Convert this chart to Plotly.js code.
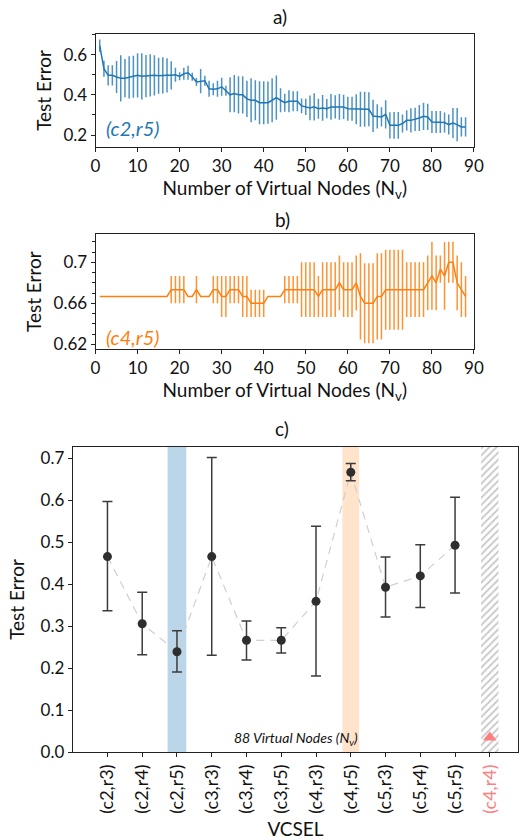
<!DOCTYPE html>
<html>
<head>
<meta charset="utf-8">
<script src="https://cdn.plot.ly/plotly-3.0.1.min.js"></script>
<style>html,body{margin:0;padding:0;background:#fff;}#chart{width:526px;height:840px;}</style>
</head>
<body>
<div id="chart"></div>
<script>
// ---------- Panel a: (c2,r5) test error vs number of virtual nodes ----------
const nodes = [1,2,3,4,5,6,7,8,9,10,11,12,13,14,15,16,17,18,19,20,21,22,23,24,25,26,27,28,29,30,
  31,32,33,34,35,36,37,38,39,40,41,42,43,44,45,46,47,48,49,50,51,52,53,54,55,56,57,58,59,60,
  61,62,63,64,65,66,67,68,69,70,71,72,73,74,75,76,77,78,79,80,81,82,83,84,85,86,87,88];

const errA = [0.645,0.53,0.497,0.497,0.489,0.482,0.483,0.487,0.49,0.497,0.492,0.493,0.497,0.497,0.495,
  0.497,0.497,0.497,0.50,0.492,0.505,0.51,0.49,0.464,0.468,0.47,0.43,0.428,0.43,0.44,
  0.42,0.40,0.406,0.40,0.40,0.38,0.373,0.373,0.361,0.361,0.361,0.373,0.386,0.373,0.361,
  0.368,0.368,0.368,0.345,0.34,0.335,0.34,0.331,0.335,0.331,0.34,0.34,0.34,0.34,0.331,
  0.331,0.328,0.328,0.328,0.328,0.295,0.293,0.29,0.303,0.248,0.248,0.248,0.257,0.273,0.273,
  0.278,0.285,0.293,0.29,0.265,0.265,0.265,0.262,0.252,0.26,0.252,0.24,0.24];
const stdA = [0.03,0.04,0.05,0.05,0.08,0.115,0.095,0.105,0.105,0.11,0.115,0.105,0.105,0.1,0.09,
  0.09,0.085,0.07,0.035,0.02,0.03,0.035,0.02,0.02,0.06,0.025,0.04,0.03,0.04,0.045,
  0.025,0.087,0.093,0.093,0.093,0.09,0.11,0.1,0.107,0.107,0.105,0.11,0.11,0.06,0.045,
  0.055,0.05,0.05,0.037,0.04,0.062,0.068,0.05,0.064,0.048,0.064,0.058,0.064,0.06,0.06,
  0.06,0.075,0.087,0.087,0.085,0.08,0.06,0.048,0.07,0.065,0.066,0.066,0.045,0.05,0.06,
  0.058,0.065,0.068,0.065,0.055,0.055,0.055,0.05,0.05,0.075,0.083,0.048,0.048];

// ---------- Panel b: (c4,r5) ----------
const errB = [0.6667,0.6667,0.6667,0.6667,0.6667,0.6667,0.6667,0.6667,0.6667,0.6667,0.6667,0.6667,0.6667,0.6667,0.6667,
  0.6667,0.6667,0.6733,0.6733,0.6733,0.6733,0.6667,0.6667,0.6733,0.6667,0.6667,0.6667,0.6733,0.6733,0.6667,
  0.6667,0.6733,0.6733,0.6733,0.6667,0.6667,0.66,0.66,0.66,0.66,0.6667,0.6667,0.6667,0.6667,0.6733,
  0.6733,0.6733,0.6733,0.6733,0.6733,0.6733,0.6733,0.6667,0.6733,0.6733,0.6733,0.6733,0.68,0.6733,0.6733,
  0.6733,0.68,0.6667,0.66,0.66,0.66,0.6667,0.6667,0.6733,0.6733,0.6733,0.6733,0.6733,0.6733,0.6733,
  0.6733,0.6733,0.6733,0.68,0.6867,0.68,0.6933,0.6867,0.70,0.70,0.68,0.6733,0.6667];
const stdB = [0,0,0,0,0,0,0,0,0,0,0,0,0,0,0,
  0,0,0.0133,0.0133,0.0133,0.0133,0,0,0.0133,0,0,0,0.0133,0.0133,0.02,
  0.02,0.0133,0.0133,0.0133,0.02,0.02,0.0133,0.0133,0.0133,0.0133,0,0,0,0,0.0133,
  0.0133,0.0133,0.0133,0.0267,0.0267,0.0267,0.0267,0.02,0.0267,0.0267,0.0267,0.0267,0.0267,0.0267,0.0267,
  0.0267,0.0267,0.042,0.039,0.039,0.039,0.042,0.042,0.039,0.039,0.039,0.039,0.039,0.0267,0.0267,
  0.0267,0.0267,0.0267,0.0267,0.033,0.0267,0.0133,0.033,0.02,0.02,0.0267,0.0267,0.02];

// ---------- Panel c: VCSELs at 88 virtual nodes ----------
const vcsels = ['(c2,r3)','(c2,r4)','(c2,r5)','(c3,r3)','(c3,r4)','(c3,r5)','(c4,r3)','(c4,r5)','(c5,r3)','(c5,r4)','(c5,r5)'];
const vcselErr = [0.466,0.306,0.2395,0.466,0.2667,0.2667,0.3595,0.6667,0.393,0.42,0.493];
const vcselUp  = [0.131,0.075,0.050,0.236,0.046,0.030,0.179,0.021,0.072,0.074,0.114];
const vcselDn  = [0.129,0.074,0.0485,0.235,0.047,0.030,0.178,0.020,0.071,0.075,0.114];
const excludedVcsel = '(c4,r4)';
const excludedErr = 0.035;
const highlighted = ['(c2,r5)','(c4,r5)'];

const allCats = vcsels.concat([excludedVcsel]);
const tickText = vcsels.concat(['<span style="color:#ff7f7f">' + excludedVcsel + '</span>']);

const yTickValsA = [0.2,0.4,0.6], yTickTextA = ['0.2','0.4','0.6'];
const yTickValsB = [0.62,0.66,0.7], yTickTextB = ['0.62','0.66','0.7'];

const BLUE = '#1f77b4', ORANGE = '#ff7f0e', RED = '#ff7f7f';
const FONT = 'Lato, "Open Sans", sans-serif';
const cTop = 0.7276;

const traces = [
  {x: nodes, y: errA, type: 'scatter', mode: 'lines', xaxis: 'x', yaxis: 'y',
   line: {color: BLUE, width: 1.5},
   error_y: {type: 'data', array: stdA, visible: true, color: 'rgba(31,119,180,0.8)', thickness: 1.5, width: 0}},
  {x: nodes, y: errB, type: 'scatter', mode: 'lines', xaxis: 'x2', yaxis: 'y2',
   line: {color: ORANGE, width: 1.5},
   error_y: {type: 'data', array: stdB, visible: true, color: 'rgba(255,127,14,0.85)', thickness: 1.5, width: 0}},
  {x: [excludedVcsel], y: [cTop], type: 'bar', xaxis: 'x3', yaxis: 'y3', width: 0.5,
   marker: {color: 'white', line: {width: 0},
            pattern: {shape: '/', fgcolor: '#c8c8c8', bgcolor: 'white', size: 5, solidity: 0.35}},
   hoverinfo: 'skip'},
  {x: vcsels, y: vcselErr, type: 'scatter', mode: 'lines', xaxis: 'x3', yaxis: 'y3',
   line: {color: '#cfcfcf', width: 1.2, dash: '8px,6px'}},
  {x: vcsels, y: vcselErr, type: 'scatter', mode: 'markers', xaxis: 'x3', yaxis: 'y3',
   marker: {color: '#2e2e2e', size: 9},
   error_y: {type: 'data', symmetric: false, array: vcselUp, arrayminus: vcselDn, visible: true,
             color: '#3c3c3c', thickness: 1.5, width: 5}},
  {x: [excludedVcsel], y: [excludedErr], type: 'scatter', mode: 'markers', xaxis: 'x3', yaxis: 'y3',
   marker: {color: RED, size: 12, symbol: 'triangle-up'}}
];

const shapes = [
  {type: 'rect', xref: 'x3', yref: 'y3 domain', x0: allCats.indexOf(highlighted[0]) - 0.27, x1: allCats.indexOf(highlighted[0]) + 0.27,
   y0: 0, y1: 1, fillcolor: 'rgba(31,119,180,0.3)', line: {width: 0}, layer: 'below'},
  {type: 'rect', xref: 'x3', yref: 'y3 domain', x0: allCats.indexOf(highlighted[1]) - 0.24, x1: allCats.indexOf(highlighted[1]) + 0.24,
   y0: 0, y1: 1, fillcolor: 'rgba(255,127,14,0.22)', line: {width: 0}, layer: 'below'}
];

const axBase = {showline: true, mirror: true, linecolor: '#222', linewidth: 1, ticks: 'outside', ticklen: 4,
  tickcolor: '#222', showgrid: false, zeroline: false, tickfont: {size: 17, color: '#111'}};

const layout = {
  width: 526, height: 840, margin: {l: 0, r: 0, t: 0, b: 0}, showlegend: false,
  paper_bgcolor: 'white', plot_bgcolor: 'white', font: {family: FONT, color: '#111'},
  xaxis: Object.assign({}, axBase, {domain: [0.1816, 0.9011], anchor: 'y', range: [0, 90], dtick: 10,
    title: {text: 'Number of Virtual Nodes (N<sub>v</sub>)', font: {size: 19}, standoff: 4}}),
  yaxis: Object.assign({}, axBase, {domain: [0.8254, 0.9592], anchor: 'x', range: [0.142, 0.7015],
    tickvals: yTickValsA, ticktext: yTickTextA, minor: {dtick: 0.1, ticks: 'outside', ticklen: 3, tickcolor: '#222'},
    title: {text: 'Test Error', font: {size: 19}, standoff: 6}}),
  xaxis2: Object.assign({}, axBase, {domain: [0.1816, 0.9011], anchor: 'y2', range: [0, 90], dtick: 10,
    title: {text: 'Number of Virtual Nodes (N<sub>v</sub>)', font: {size: 19}, standoff: 4}}),
  yaxis2: Object.assign({}, axBase, {domain: [0.5845, 0.7211], anchor: 'x2', range: [0.6154, 0.7273],
    tickvals: yTickValsB, ticktext: yTickTextB, minor: {dtick: 0.01, tick0: 0.62, ticks: 'outside', ticklen: 3, tickcolor: '#222'},
    title: {text: 'Test Error', font: {size: 19}, standoff: 6}}),
  xaxis3: Object.assign({}, axBase, {domain: [0.1382, 0.9854], anchor: 'y3', type: 'category',
    categoryorder: 'array', categoryarray: allCats, range: [-1.0, 11.82],
    tickvals: allCats, ticktext: tickText, tickangle: -90, tickfont: {size: 18, color: '#111'},
    title: {text: 'VCSEL', font: {size: 19}, standoff: 12}}),
  yaxis3: Object.assign({}, axBase, {domain: [0.1044, 0.4682], anchor: 'x3', range: [0, cTop],
    dtick: 0.1, tickformat: '.1f', title: {text: 'Test Error', font: {size: 19}, standoff: 10}}),
  shapes: shapes,
  annotations: [
    {text: 'a)', xref: 'paper', yref: 'paper', x: 0.533, y: 0.98, yanchor: 'middle', showarrow: false, font: {size: 19}},
    {text: 'b)', xref: 'paper', yref: 'paper', x: 0.538, y: 0.739, yanchor: 'middle', showarrow: false, font: {size: 19}},
    {text: 'c)', xref: 'paper', yref: 'paper', x: 0.536, y: 0.490, yanchor: 'middle', showarrow: false, font: {size: 19}},
    {text: '<i>(c2,r5)</i>', xref: 'paper', yref: 'paper', x: 0.198, y: 0.8476, xanchor: 'left', yanchor: 'middle', showarrow: false,
     font: {size: 20, color: BLUE}},
    {text: '<i>(c4,r5)</i>', xref: 'paper', yref: 'paper', x: 0.198, y: 0.5992, xanchor: 'left', yanchor: 'middle', showarrow: false,
     font: {size: 20, color: ORANGE}},
    {text: '<i>88 Virtual Nodes (N<sub>v</sub>)</i>', xref: 'paper', yref: 'paper', x: 0.563, y: 0.1214, yanchor: 'middle', showarrow: false,
     font: {size: 14, color: '#111'}}
  ]
};

Plotly.newPlot('chart', traces, layout, {displayModeBar: false, staticPlot: true});
</script>
</body>
</html>
